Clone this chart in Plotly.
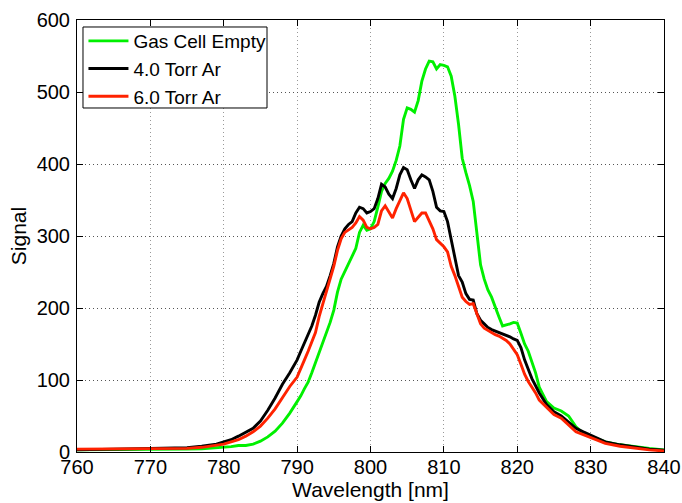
import plotly.graph_objects as go

wavelength = [760, 765, 770, 773, 775, 777, 779, 780, 781, 782, 783, 784, 785, 786, 787, 788, 789, 790,
              790.5, 791, 791.5, 792, 792.5, 793, 793.5, 794, 794.5, 795, 795.5, 796, 796.5, 797, 797.5,
              798, 798.5, 799, 799.5, 800, 800.5, 801, 801.5, 802, 802.5, 803, 803.5, 804, 804.5, 805,
              805.5, 806, 806.5, 807, 807.5, 808, 808.5, 809, 809.5, 810, 810.5, 811, 811.5, 812, 812.5,
              813, 813.5, 814, 814.5, 815, 815.5, 816, 816.5, 817, 817.5, 818, 818.5, 819, 819.5, 820,
              820.5, 821, 821.5, 822, 822.5, 823, 824, 825, 826, 827, 828, 829, 830, 832, 834, 836, 838, 840]

gas_cell_empty = [3, 3, 3, 3.5, 4, 4.5, 5.5, 6.5, 7.5, 9, 9, 11, 15, 21, 29, 40, 54, 70,
                  78, 88, 97, 110, 124, 140, 152, 165, 180, 197, 222, 240, 250, 260, 272,
                  283, 305, 315, 308, 310, 320, 340, 362, 373, 380, 390, 405, 425, 462, 478,
                  476, 472, 488, 515, 532, 543, 542, 532, 538, 537, 535, 522, 494, 455, 408,
                  388, 370, 348, 300, 260, 240, 225, 215, 200, 188, 175, 176, 178, 180, 179,
                  165, 150, 140, 124, 110, 90, 70, 61, 57, 50, 35, 26, 22, 14, 10, 7, 5, 3]

torr_4 = [3, 4, 4.5, 5, 6, 8, 11, 14, 17, 22, 27, 33, 43, 58, 75, 94, 110, 128,
          140, 152, 162, 175, 190, 208, 220, 230, 245, 262, 285, 300, 310, 316, 320,
          332, 340, 338, 332, 334, 338, 352, 372, 368, 358, 352, 366, 385, 395, 392,
          378, 366, 378, 385, 382, 378, 362, 340, 335, 334, 320, 295, 275, 245, 236,
          220, 212, 211, 192, 183, 178, 173, 170, 168, 166, 165, 162, 160, 157, 155,
          145, 128, 115, 102, 92, 82, 66, 56, 50, 42, 33, 28, 23, 14, 10, 7, 4, 2.5]

torr_6 = [4, 4, 4, 4.5, 5, 6.5, 9, 11, 14, 17, 22, 28, 36, 47, 60, 76, 91, 104,
          115, 128, 140, 152, 166, 188, 205, 222, 240, 258, 280, 296, 305, 309, 312,
          318, 327, 322, 312, 310, 312, 316, 335, 342, 333, 325, 338, 348, 360, 352,
          335, 320, 326, 332, 332, 322, 310, 295, 290, 285, 278, 258, 245, 230, 215,
          209, 205, 206, 192, 178, 172, 169, 165, 163, 161, 158, 155, 150, 143, 135,
          122, 108, 98, 90, 82, 72, 62, 52, 47, 38, 28, 24, 20, 12, 8, 5, 3, 1.5]

series_names = ["Gas Cell Empty", "4.0 Torr Ar", "6.0 Torr Ar"]
series_values = [gas_cell_empty, torr_4, torr_6]
series_colors = ["#00f000", "#000000", "#ff2200"]

x_ticks = list(range(760, 841, 10))
y_ticks = list(range(0, 601, 100))

FONT = "Liberation Sans, Arial, Helvetica, sans-serif"

fig = go.Figure()
for name, vals, col in zip(series_names, series_values, series_colors):
    fig.add_trace(go.Scatter(x=wavelength, y=vals, mode="lines", name=name,
                             line=dict(color=col, width=2.9)))

axis_common = dict(showline=True, linecolor="black", linewidth=1, mirror="allticks",
                   ticks="inside", ticklen=6, tickcolor="black", tickwidth=1,
                   showgrid=True, griddash="1px,3px", gridwidth=1,
                   zeroline=False, automargin=False,
                   tickfont=dict(size=20, color="black", family=FONT))

fig.update_xaxes(range=[760, 840], tickvals=x_ticks, ticktext=[str(v) for v in x_ticks],
                 gridcolor="#999999", ticklabelstandoff=-3,
                 title=dict(text="Wavelength [nm]", font=dict(size=21, color="black", family=FONT), standoff=5),
                 **axis_common)
fig.update_yaxes(range=[0, 600], tickvals=y_ticks, ticktext=[str(v) for v in y_ticks],
                 gridcolor="#555555", ticklabelstandoff=2,
                 title=dict(text="Signal", font=dict(size=21, color="black", family=FONT), standoff=4),
                 **axis_common)

# legend frame (white box with black border) drawn above the traces, legend entries on top
fig.add_shape(type="rect", xref="paper", yref="paper",
              x0=0.0102, x1=0.3237, y0=0.7963, y1=0.9838,
              line=dict(color="black", width=1), fillcolor="white", layer="above")

fig.update_layout(
    width=682, height=503,
    margin=dict(l=77, r=18, t=20, b=51),
    plot_bgcolor="white", paper_bgcolor="white",
    font=dict(family=FONT, size=19, color="black"),
    showlegend=True,
    legend=dict(x=0.011, y=0.9954, xanchor="left", yanchor="top",
                bgcolor="rgba(0,0,0,0)", borderwidth=0,
                font=dict(size=19, family=FONT, color="black"),
                itemwidth=40, tracegroupgap=0),
)

fig.write_html("out.html", config={"displayModeBar": False},
               post_script="document.body.style.margin='0px';")
